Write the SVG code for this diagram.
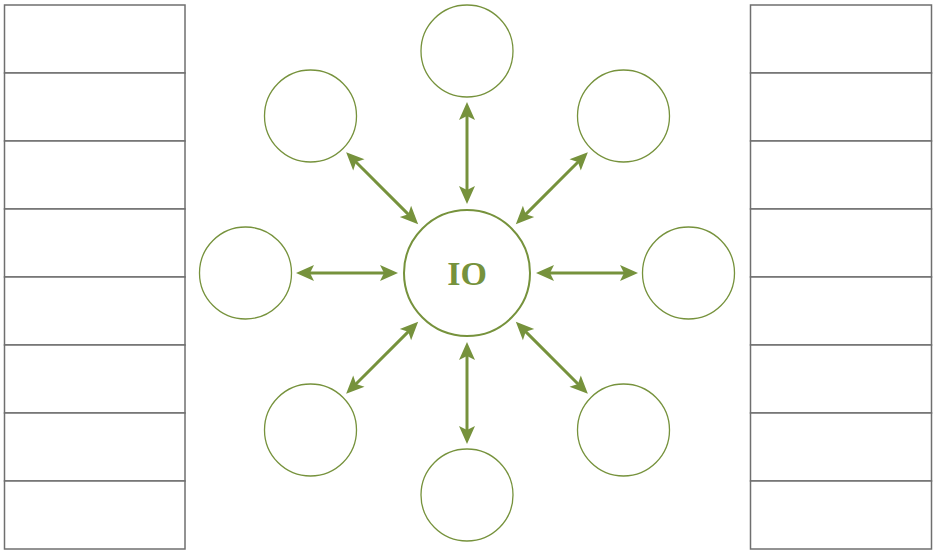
<svg xmlns="http://www.w3.org/2000/svg" width="934" height="550" viewBox="0 0 934 550">
<style>
.box{fill:#fff;stroke:#6f6f6f;stroke-width:1.5}
.node{fill:#fff;stroke:#76923c;stroke-width:1.3}
.hub{fill:#fff;stroke:#76923c;stroke-width:2}
.conn{stroke:#76923c;stroke-width:3;fill:none;marker-start:url(#ah);marker-end:url(#ah)}
.lbl{font-family:"Liberation Serif","DejaVu Serif",serif;font-weight:bold;font-size:34px;fill:#76923c;text-anchor:middle}
</style>
<defs>
<marker id="ah" markerUnits="userSpaceOnUse" viewBox="-10 -9 22 18" markerWidth="22" markerHeight="18" refX="0" refY="0" orient="auto-start-reverse">
<path d="M10,0 L-8,-8 L-4,0 L-8,8 Z" fill="#76923c"/>
</marker>
</defs>
<rect width="934" height="550" fill="#fff"/>
<g id="left-table">
<rect class="box" x="4.5" y="5" width="180.5" height="68"/>
<rect class="box" x="4.5" y="73" width="180.5" height="68"/>
<rect class="box" x="4.5" y="141" width="180.5" height="68"/>
<rect class="box" x="4.5" y="209" width="180.5" height="68"/>
<rect class="box" x="4.5" y="277" width="180.5" height="68"/>
<rect class="box" x="4.5" y="345" width="180.5" height="68"/>
<rect class="box" x="4.5" y="413" width="180.5" height="68"/>
<rect class="box" x="4.5" y="481" width="180.5" height="68"/>
</g>
<g id="right-table">
<rect class="box" x="750.5" y="5" width="181" height="68"/>
<rect class="box" x="750.5" y="73" width="181" height="68"/>
<rect class="box" x="750.5" y="141" width="181" height="68"/>
<rect class="box" x="750.5" y="209" width="181" height="68"/>
<rect class="box" x="750.5" y="277" width="181" height="68"/>
<rect class="box" x="750.5" y="345" width="181" height="68"/>
<rect class="box" x="750.5" y="413" width="181" height="68"/>
<rect class="box" x="750.5" y="481" width="181" height="68"/>
</g>
<g id="connectors">
<line class="conn" x1="546" y1="273" x2="628" y2="273"/>
<line class="conn" x1="388" y1="273" x2="306" y2="273"/>
<line class="conn" x1="467" y1="194" x2="467" y2="112"/>
<line class="conn" x1="467" y1="352" x2="467" y2="434"/>
<line class="conn" x1="411.1" y1="217.1" x2="353.2" y2="159.2"/>
<line class="conn" x1="522.9" y1="217.1" x2="580.8" y2="159.2"/>
<line class="conn" x1="411.1" y1="328.9" x2="353.2" y2="386.8"/>
<line class="conn" x1="522.9" y1="328.9" x2="580.8" y2="386.8"/>
</g>
<g id="hub"><circle class="hub" cx="467" cy="273" r="63"/><text class="lbl" x="467" y="285">IO</text></g>
<g id="n-top"><circle class="node" cx="467" cy="51" r="46"/></g>
<g id="n-bottom"><circle class="node" cx="467" cy="495" r="46"/></g>
<g id="n-left"><circle class="node" cx="245.5" cy="273" r="46"/></g>
<g id="n-right"><circle class="node" cx="688.5" cy="273" r="46"/></g>
<g id="n-tl"><circle class="node" cx="310.5" cy="116" r="46"/></g>
<g id="n-tr"><circle class="node" cx="623.5" cy="116" r="46"/></g>
<g id="n-bl"><circle class="node" cx="310.5" cy="430" r="46"/></g>
<g id="n-br"><circle class="node" cx="623.5" cy="430" r="46"/></g>
</svg>
